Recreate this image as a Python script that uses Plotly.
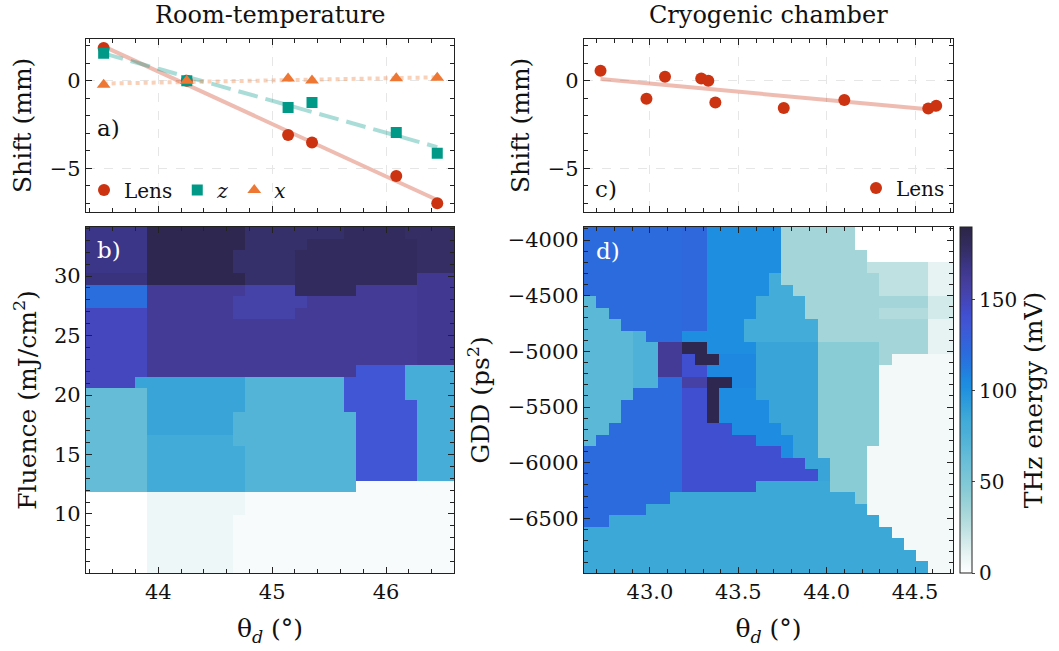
import numpy as np
import plotly.graph_objects as go

W, H = 1059, 651

# ---------------- data: panel a (room temperature) ----------------
theta_rt = [43.52, 44.25, 45.14, 45.35, 46.09, 46.45]
shift_lens_rt = [1.87, 0.0, -3.09, -3.53, -5.44, -7.0]
shift_z_rt = [1.58, 0.0, -1.53, -1.24, -2.96, -4.14]
shift_x_rt = [-0.23, 0.0, 0.13, 0.02, 0.15, 0.17]

# ---------------- data: panel c (cryogenic chamber) ----------------
theta_cryo = [42.72, 42.98, 43.085, 43.29, 43.33, 43.37, 43.757, 44.10, 44.575, 44.62]
shift_lens_cryo = [0.57, -1.03, 0.23, 0.13, 0.0, -1.24, -1.56, -1.10, -1.58, -1.43]

# ---------------- data: panel b map (THz energy, mV), rows top -> bottom ----------------
rt_theta_range = [43.365, 46.597]
rt_fluence_range = [5.04, 34.12]
rt_levels = {'D': 186, 'E': 180, 'f': 178, 'F': 176, 'g': 171, 'G': 168, 'h': 164, 'H': 162,
             'I': 155, 'J': 148, 'K': 136, 'L': 120, 'M': 88, 'm': 83, 'N': 81, 'O': 72,
             'P': 64, 'Q': 7, 'R': 3, 'S': 0}
rt_rows = [
    "GGGGGDDDDDDDDFFFFFFFFEEEEEffff",
    "GGGGGDDDDDDDDFFFFFEEEEEEEEEfff",
    "GGGGGDDDDDDDFFFFFEEEEEEEEEEfff",
    "GGGGGDDDDDDDFFFFFEEEEEEEEEEfff",
    "gggggDDDDDDDDFFFFEEEEEEEEEEhhh",
    "LLLLLHHHHHHHHIIIIEEEEEHHHHHhhh",
    "LLLLLHHHHHHHIIIIIIHHHHHHHHHhhh",
    "JJJJJHHHHHHHIIIIIHHHHHHHHHHhhh",
    "JJJJJHHHHHHHHHHHHHHHHHHHHHHhhh",
    "JJJJJHHHHHHHHHHHHHHHHHHHHHHhhh",
    "JJJJJHHHHHHHHHHHHHHHHHHHHHHhhh",
    "JJJJJHHHHHHHHHHHHHHHHHHHHHHhhh",
    "JJJJJHHHHHHHHHHHHHHHHHKKKKNNNN",
    "JJJJMMMMMMMMMOOOOOOOOKKKKKNNNN",
    "PPPPPMMMMMMMMOOOOOOOOKKKKKNNNN",
    "PPPPPMMMMMMMMOOOOOOOOKKKKKKNNN",
    "PPPPPMMMMMMMOOOOOOOOOOKKKKKNNN",
    "PPPPPMMMMMMMOOOOOOOOOOKKKKKNNN",
    "PPPPPmmmmmmmOOOOOOOOOOKKKKKNNN",
    "PPPPPmmmmmmmmOOOOOOOOOKKKKKNNN",
    "PPPPPmmmmmmmmOOOOOOOOOKKKKKNNN",
    "PPPPPmmmmmmmmOOOOOOOOOKKKKKNNN",
    "PPPPPmmmmmmmmOOOOOOOOORRRRRRRR",
    "SSSSSQQQQQQQQRRRRRRRRRRRRRRRRR",
    "SSSSSQQQQQQQQRRRRRRRRRRRRRRRRR",
    "SSSSSQQQQQQQRRRRRRRRRRRRRRRRRR",
    "SSSSSQQQQQQQRRRRRRRRRRRRRRRRRR",
    "SSSSSQQQQQQQRRRRRRRRRRRRRRRRRR",
    "SSSSSQQQQQQQRRRRRRRRRRRRRRRRRR",
    "SSSSSQQQQQQQRRRRRRRRRRRRRRRRRR",
]

# ---------------- data: panel d map (THz energy, mV), rows top -> bottom ----------------
cryo_theta_range = [42.6265, 44.715]
cryo_gdd_range = [-6991, -3883]
cryo_levels = {'X': 0, 'W': 5, 'u': 10, 'v': 17, 'U': 24, 'w': 29, 'T': 34, 'V': 45, 'P': 68,
               'p': 75, 'M': 82, 'O': 86, 'N': 88, 'C': 102, 'e': 104, 'c': 107, 'B': 121,
               'b': 123, 'K': 142, 'y': 156, 'Y': 162, 'Z': 186}
cryo_rows = [
    "BBBBBBBBbbCCCCCCTTTTTTXXXXXXXX",
    "BBBBBBBBbbCCCCCCTTTTTTXXXXXXXX",
    "BBBBBBBBbbCCCCCCTTTTTTTXXXXXXX",
    "BBBBBBBBbbCCCCCCTTTTTTTUUUUUuu",
    "BBBBBBBBbbCCCCCMTTTTTTTTUUUUuu",
    "BBBBBBBBbbCCCCCMMTTTTTTTUUUUuu",
    "PBBBBBBBbbCCCCMMMMTTTTTTTTTTvv",
    "PPBBBBBBbbCCCCMMMMTTTTTTwwwwvv",
    "PPPBBBBBbbCCCMMMMMMTTTTTTTTTuu",
    "PPPPpBBBCCCCCMMMMMMTTTTTTTTTuu",
    "PPPPppYYZZCCCCNNNNNVVVVVTTTTuu",
    "PPPPppYYKZZcccNNNNNVVVVVTWWWWW",
    "PPPPppYYKKccccNNNNNVVVVVWWWWWW",
    "PPPPppBByyZZccNNNNNVVVVVWWWWWW",
    "PPPPBBBBKKZeeeNNNNNVVVVVWWWWWW",
    "PPPBBBBBKKZeeeeNNNNVVVVVWWWWWW",
    "PPPBBBBBKKZeeeeNNNNVVVVVWWWWWW",
    "PPBBBBBBKKKKeeeeNNNVVVVVWWWWWW",
    "PBBBBBBBKKKKKKeeeNNVVVVVWWWWWW",
    "BBBBBBBBKKKKKKKKeNNVVVVWWWWWWW",
    "BBBBBBBBKKKKKKKKKKNNVVVWWWWWWW",
    "BBBBBBBBKKKKKKKKKKKNVVVWWWWWWW",
    "BBBBBBBBKKKKKKOOOOOOVVVWWWWWWW",
    "BBBBBBBOOOOOOOOOOOOOOOVWWWWWWW",
    "BBBBBOOOOOOOOOOOOOOOOOOWWWWWWW",
    "BBOOOOOOOOOOOOOOOOOOOOOOWWWWWW",
    "OOOOOOOOOOOOOOOOOOOOOOOOOWWWWW",
    "OOOOOOOOOOOOOOOOOOOOOOOOOOWWWW",
    "OOOOOOOOOOOOOOOOOOOOOOOOOOOWWW",
    "OOOOOOOOOOOOOOOOOOOOOOOOOOOOWW",
]

energy_range = [0, 190]
colorbar_ticks = [0, 50, 100, 150]

# ---------------- styles ----------------
energy_colors = [
    (0, '#ffffff'), (5, '#f3f9f9'), (10, '#e7f3f3'), (17, '#d3eaea'), (24, '#bfe1e2'),
    (29, '#b2dbdd'), (34, '#a4d6d9'), (45, '#89ccd6'), (56, '#73c3d7'), (64, '#64bcd7'),
    (68, '#5bb8d7'), (72, '#54b4d7'), (76, '#4cb0d8'), (82, '#44acd8'), (86, '#3ca8d8'),
    (88, '#38a4d8'), (102, '#1e8fe0'), (107, '#1e88e0'), (113, '#2479df'), (121, '#2b6bdd'),
    (136, '#4056d5'), (142, '#404fd0'), (148, '#4447be'), (155, '#4542a8'), (162, '#433b96'),
    (168, '#3c3688'), (176, '#352f6a'), (180, '#322c5e'), (186, '#2e2850'), (190, '#2b2546'),
]
colorscale = [[v / energy_range[1], c] for v, c in energy_colors]

RED, TEAL, ORANGE = '#CC3311', '#009988', '#EE7733'
FONT = 'DejaVu Serif'
TICK_SIZE = 21
CB_TICK_SIZE = 20
LABEL_SIZE = 25


def grid(rows, levels):
    for r in rows:
        if len(r) != 30:
            raise ValueError(f"bad row length {len(r)}: {r}")
    return [[levels[ch] for ch in r] for r in reversed(rows)]


def cells(rng, n):
    d = (rng[1] - rng[0]) / n
    return rng[0] + d / 2, d


def px_x(p):
    return p / W


def px_y(p):
    return 1 - p / H


fig = go.Figure()

# ---- panel a ----
xf = np.array([min(theta_rt), max(theta_rt)])
for yv, col, dash in [(shift_lens_rt, 'rgba(204,51,17,0.33)', 'solid'),
                      (shift_z_rt, 'rgba(0,153,136,0.33)', '20px,8px'),
                      (shift_x_rt, 'rgba(238,119,51,0.35)', 'dot')]:
    coef = np.polyfit(theta_rt, yv, 1)
    fig.add_trace(go.Scatter(x=xf, y=np.polyval(coef, xf), mode='lines',
                             line=dict(color=col, width=4, dash=dash),
                             showlegend=False, hoverinfo='skip', xaxis='x', yaxis='y'))

for yv, col, sym, name in [(shift_lens_rt, RED, 'circle', 'Lens'),
                           (shift_z_rt, TEAL, 'square', '<i>z</i>'),
                           (shift_x_rt, ORANGE, 'triangle-up', '<i>x</i>')]:
    fig.add_trace(go.Scatter(x=theta_rt, y=yv, mode='markers', name=name,
                             marker=dict(color=col, size=12 if sym != 'square' else 11, symbol=sym,
                                         line=dict(width=0)),
                             xaxis='x', yaxis='y', legend='legend'))

# ---- panel c ----
xf2 = np.array([min(theta_cryo), max(theta_cryo)])
coef_c = np.polyfit(theta_cryo, shift_lens_cryo, 1)
fig.add_trace(go.Scatter(x=xf2, y=np.polyval(coef_c, xf2), mode='lines',
                         line=dict(color='rgba(204,51,17,0.33)', width=4),
                         showlegend=False, hoverinfo='skip', xaxis='x3', yaxis='y3'))
fig.add_trace(go.Scatter(x=theta_cryo, y=shift_lens_cryo, mode='markers', name='Lens',
                         marker=dict(color=RED, size=12, symbol='circle', line=dict(width=0)),
                         xaxis='x3', yaxis='y3', legend='legend2'))

# ---- panel b ----
x0b, dxb = cells(rt_theta_range, 30)
y0b, dyb = cells(rt_fluence_range, 30)
fig.add_trace(go.Heatmap(z=grid(rt_rows, rt_levels), x0=x0b, dx=dxb, y0=y0b, dy=dyb,
                         colorscale=colorscale, zmin=energy_range[0], zmax=energy_range[1],
                         zsmooth=False, showscale=False, xaxis='x2', yaxis='y2', hoverinfo='skip'))

# ---- panel d ----
x0d, dxd = cells(cryo_theta_range, 30)
y0d, dyd = cells(cryo_gdd_range, 30)
fig.add_trace(go.Heatmap(z=grid(cryo_rows, cryo_levels), x0=x0d, dx=dxd, y0=y0d, dy=dyd,
                         colorscale=colorscale, zmin=energy_range[0], zmax=energy_range[1],
                         zsmooth=False, xaxis='x4', yaxis='y4', hoverinfo='skip',
                         colorbar=dict(x=px_x(960), xanchor='left', y=px_y(573), yanchor='bottom',
                                       len=346 / H, lenmode='fraction', thickness=12,
                                       thicknessmode='pixels', outlinewidth=1, outlinecolor='#222',
                                       xpad=0, ypad=0, ticks='outside', ticklen=3,
                                       tickvals=colorbar_ticks,
                                       tickfont=dict(size=CB_TICK_SIZE, family=FONT),
                                       title=dict(text='THz energy (mV)', side='right',
                                                  font=dict(size=LABEL_SIZE, family=FONT)))))

# ---- axes ----
common = dict(showline=True, linecolor='#222', linewidth=1.2, mirror='allticks', ticks='inside',
              ticklen=6, tickwidth=1.1, tickcolor='#222',
              tickfont=dict(size=TICK_SIZE, family=FONT), zeroline=False)
grid_on = dict(showgrid=True, gridcolor='#e6e6e6', griddash='dash', gridwidth=0.7)
grid_off = dict(showgrid=False)


def minor(dt):
    return dict(ticks='inside', ticklen=3.5, tickwidth=1, tickcolor='#222', dtick=dt, showgrid=False)


title_font = dict(size=LABEL_SIZE, family=FONT)
theta_title = dict(text='θ<sub><i>d</i></sub> (°)', font=title_font, standoff=16)

fig.update_layout(
    width=W, height=H, margin=dict(l=0, r=0, t=0, b=0),
    paper_bgcolor='white', plot_bgcolor='white',
    font=dict(family=FONT, color='#111', size=TICK_SIZE),
    xaxis=dict(domain=[px_x(86), px_x(454)], anchor='y', range=rt_theta_range, tick0=44, dtick=1,
               minor=minor(0.2), showticklabels=False, **grid_on, **common),
    yaxis=dict(domain=[px_y(211.7), px_y(39)], anchor='x', range=[-7.48, 2.39], tick0=0, dtick=5,
               minor=minor(1), title=dict(text='Shift (mm)', font=title_font, standoff=10),
               **grid_on, **common),
    xaxis2=dict(domain=[px_x(86), px_x(454)], anchor='y2', range=rt_theta_range, tick0=44, dtick=1,
                minor=minor(0.2), title=theta_title, **grid_off, **common),
    yaxis2=dict(domain=[px_y(573), px_y(227)], anchor='x2', range=rt_fluence_range, tick0=10,
                dtick=5, minor=minor(1),
                title=dict(text='Fluence (mJ/cm<sup>2</sup>)', font=title_font, standoff=10),
                **grid_off, **common),
    xaxis3=dict(domain=[px_x(584), px_x(953)], anchor='y3', range=cryo_theta_range, tick0=43,
                dtick=0.5, minor=minor(0.1), showticklabels=False, **grid_on, **common),
    yaxis3=dict(domain=[px_y(211.7), px_y(39)], anchor='x3', range=[-7.48, 2.39], tick0=0, dtick=5,
                minor=minor(1), title=dict(text='Shift (mm)', font=title_font, standoff=10),
                **grid_on, **common),
    xaxis4=dict(domain=[px_x(584), px_x(953)], anchor='y4', range=cryo_theta_range, tick0=43,
                dtick=0.5, tickformat='.1f', minor=minor(0.1), title=theta_title, **grid_off, **common),
    yaxis4=dict(domain=[px_y(573), px_y(227)], anchor='x4', range=cryo_gdd_range, tick0=-4000,
                dtick=500, minor=minor(100),
                title=dict(text='GDD (ps<sup>2</sup>)', font=title_font, standoff=10),
                **grid_off, **common),
    legend=dict(x=px_x(84), y=px_y(190), xanchor='left', yanchor='middle', orientation='h',
                bgcolor='rgba(0,0,0,0)', font=dict(size=20, family=FONT), borderwidth=0),
    legend2=dict(x=px_x(950), y=px_y(188), xanchor='right', yanchor='middle', orientation='h',
                 bgcolor='rgba(0,0,0,0)', font=dict(size=20, family=FONT), borderwidth=0),
    annotations=[
        dict(text='Room-temperature', x=px_x(270), y=px_y(15), xref='paper', yref='paper',
             showarrow=False, font=dict(size=24, family=FONT), xanchor='center', yanchor='middle'),
        dict(text='Cryogenic chamber', x=px_x(768.5), y=px_y(15), xref='paper', yref='paper',
             showarrow=False, font=dict(size=24, family=FONT), xanchor='center', yanchor='middle'),
        dict(text='a)', x=px_x(95), y=px_y(128), xref='paper', yref='paper', showarrow=False,
             font=dict(size=23, family=FONT), xanchor='left', yanchor='middle'),
        dict(text='c)', x=px_x(593), y=px_y(189), xref='paper', yref='paper', showarrow=False,
             font=dict(size=23, family=FONT), xanchor='left', yanchor='middle'),
        dict(text='b)', x=px_x(95), y=px_y(250), xref='paper', yref='paper', showarrow=False,
             font=dict(size=23, family=FONT, color='white'), xanchor='left', yanchor='middle'),
        dict(text='d)', x=px_x(594), y=px_y(251), xref='paper', yref='paper', showarrow=False,
             font=dict(size=23, family=FONT, color='white'), xanchor='left', yanchor='middle'),
    ],
)

fig.write_html("out.html")
